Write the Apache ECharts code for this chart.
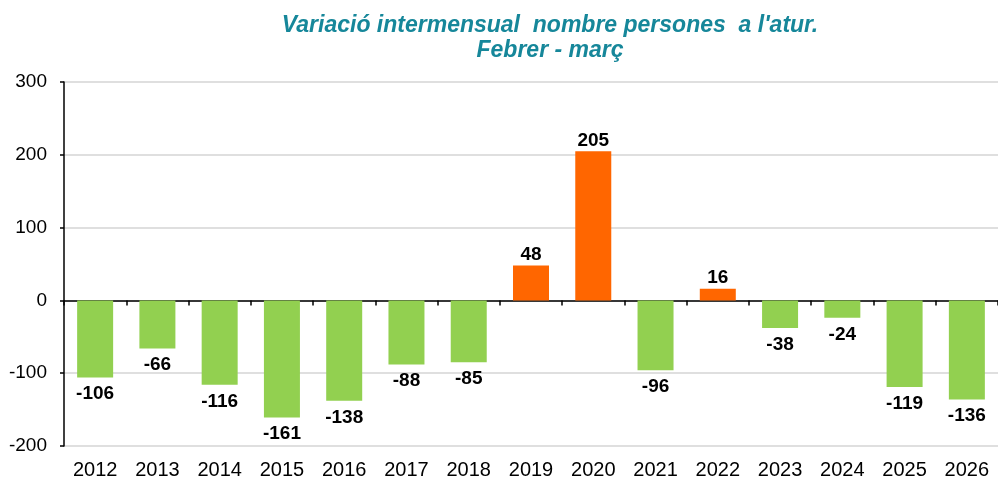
<!DOCTYPE html>
<html>
<head>
<meta charset="utf-8">
<script src="https://cdn.jsdelivr.net/npm/echarts@6/dist/echarts.min.js"></script>
<style>
  html, body { margin: 0; padding: 0; background: #fff; }
  #grafico-atur { width: 998px; height: 480px; }
</style>
</head>
<body>
<div id="grafico-atur"></div>
<script>
// --- dades ---
var anys = ['2012', '2013', '2014', '2015', '2016', '2017', '2018', '2019',
            '2020', '2021', '2022', '2023', '2024', '2025', '2026'];
var variacio = [-106, -66, -116, -161, -138, -88, -85, 48, 205, -96, 16, -38, -24, -119, -136];
var eixMin = -200;
var eixMax = 300;
var eixPas = 100;

var colorPositiu = '#ff6600';
var colorNegatiu = '#92d050';

// --- gràfic ---
var grafic = echarts.init(document.getElementById('grafico-atur'));

var dadesBarres = variacio.map(function (v) {
    return {
        value: v,
        itemStyle: { color: v >= 0 ? colorPositiu : colorNegatiu },
        label: { position: v >= 0 ? 'top' : 'bottom', distance: v >= 0 ? 1 : 7 }
    };
});

var option = {
    animation: false,
    title: {
        text: "Variació intermensual  nombre persones  a l'atur.\nFebrer - març",
        left: 545,
        top: 8,
        textAlign: 'center',
        textStyle: {
            fontFamily: 'Liberation Sans, Arial, sans-serif',
            fontSize: 23,
            fontWeight: 'bold',
            fontStyle: 'italic',
            color: '#16879a',
            lineHeight: 25
        }
    },
    grid: { left: 64, right: -7, top: 82, bottom: 34, containLabel: false },
    xAxis: [{
        type: 'category',
        data: anys,
        axisLine: { onZero: true, lineStyle: { color: '#000', width: 1.5 } },
        axisTick: { show: true, length: 5, lineStyle: { color: '#000', width: 1.5 } },
        axisLabel: { show: false }
    }, {
        type: 'category',
        data: anys,
        position: 'bottom',
        axisLine: { show: false, onZero: false },
        axisTick: { show: false },
        axisLabel: {
            margin: 14,
            fontFamily: 'Liberation Sans, Arial, sans-serif',
            fontSize: 20,
            color: '#000'
        }
    }],
    yAxis: {
        type: 'value',
        min: eixMin,
        max: eixMax,
        interval: eixPas,
        axisLine: { show: true, lineStyle: { color: '#000', width: 1.5 } },
        axisTick: { show: true, length: 4, lineStyle: { color: '#000', width: 1.5 } },
        axisLabel: {
            margin: 17,
            fontFamily: 'Liberation Sans, Arial, sans-serif',
            fontSize: 19,
            color: '#000'
        },
        splitLine: { lineStyle: { color: '#d4d4d4', width: 1.5 } }
    },
    series: [{
        type: 'bar',
        xAxisIndex: 0,
        data: dadesBarres,
        barWidth: 36,
        label: {
            show: true,
            fontFamily: 'Liberation Sans, Arial, sans-serif',
            fontSize: 19,
            fontWeight: 'bold',
            color: '#000'
        }
    }]
};
grafic.setOption(option);
</script>
</body>
</html>
